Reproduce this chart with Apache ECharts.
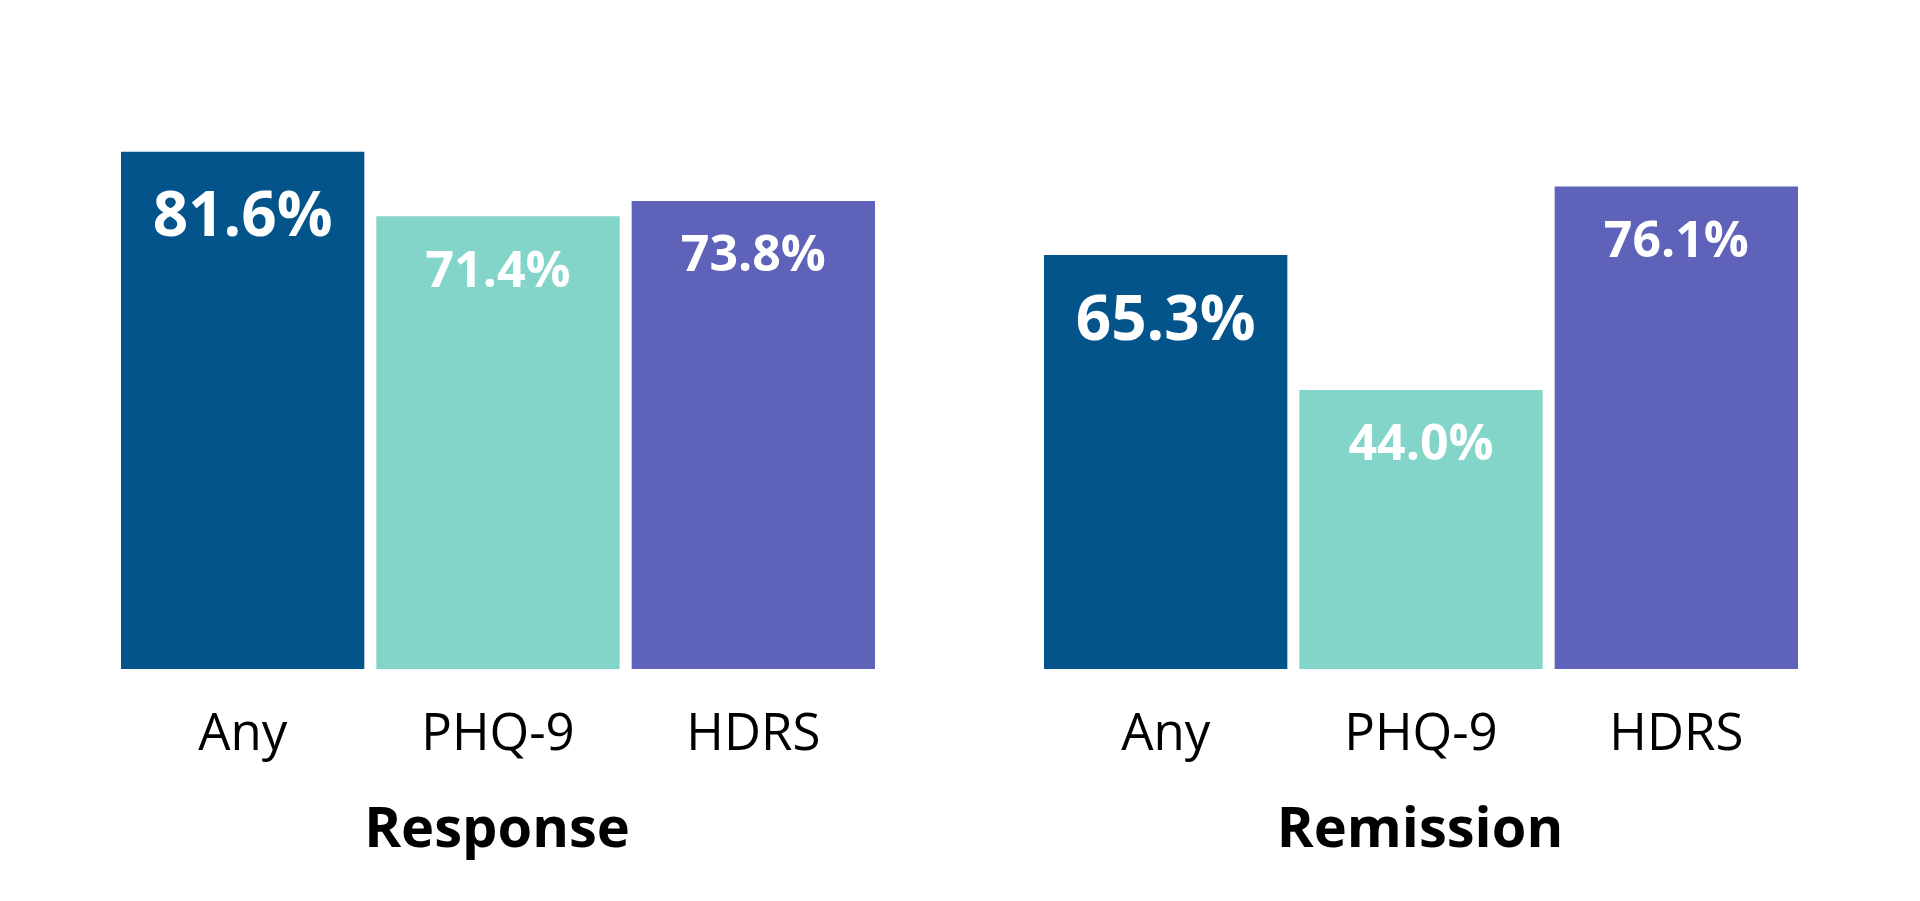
<!DOCTYPE html>
<html>
<head>
<meta charset="utf-8">
<script src="https://cdn.jsdelivr.net/npm/echarts@6/dist/echarts.min.js"></script>
<style>
html, body { margin: 0; padding: 0; background: #ffffff; }
#chart { width: 1920px; height: 901px; }
</style>
</head>
<body>
<div id="chart"></div>
<script>
const categories = ['Any', 'PHQ-9', 'HDRS'];
const responseValues = [81.6, 71.4, 73.8];
const remissionValues = [65.3, 44.0, 76.1];
const groupTitles = ['Response', 'Remission'];
const barColors = ['#02548A', '#84D5C9', '#5E62B9'];

const FONT = '"Open Sans", "Noto Sans", sans-serif';

function buildData(values) {
  return values.map(function (v, i) {
    const big = i === 0;
    return {
      value: v,
      itemStyle: { color: barColors[i] },
      label: {
        fontSize: big ? 62 : 50,
        position: ['50%', big ? 67 : 56]
      }
    };
  });
}

const grids = [
  { left: 115, width: 766, top: 35, bottom: 232 },
  { left: 1038, width: 766, top: 35, bottom: 232 }
];

const option = {
  backgroundColor: '#ffffff',
  animation: false,
  title: groupTitles.map(function (t, i) {
    return {
      text: t,
      left: i === 0 ? 497 : 1420,
      top: 803,
      textAlign: 'center',
      padding: 0,
      textStyle: { fontFamily: FONT, fontSize: 56, fontWeight: 'bold', color: '#000000' }
    };
  }),
  grid: grids,
  xAxis: [0, 1].map(function (i) {
    return {
      type: 'category',
      gridIndex: i,
      data: categories,
      axisLine: { show: false },
      axisTick: { show: false },
      axisLabel: { fontFamily: FONT, fontSize: 51, color: '#000000', margin: 41 }
    };
  }),
  yAxis: [0, 1].map(function (i) {
    return {
      type: 'value',
      gridIndex: i,
      min: 0,
      max: 100,
      show: false,
      splitLine: { show: false }
    };
  }),
  series: [responseValues, remissionValues].map(function (vals, i) {
    return {
      type: 'bar',
      xAxisIndex: i,
      yAxisIndex: i,
      barCategoryGap: '4.7%',
      data: buildData(vals),
      label: {
        show: true,
        align: 'center',
        verticalAlign: 'middle',
        color: '#ffffff',
        fontFamily: FONT,
        fontWeight: 'bold',
        formatter: function (p) { return p.value.toFixed(1) + '%'; }
      }
    };
  })
};

const chart = echarts.init(document.getElementById('chart'), null, { renderer: 'canvas' });
chart.setOption(option);
</script>
</body>
</html>
